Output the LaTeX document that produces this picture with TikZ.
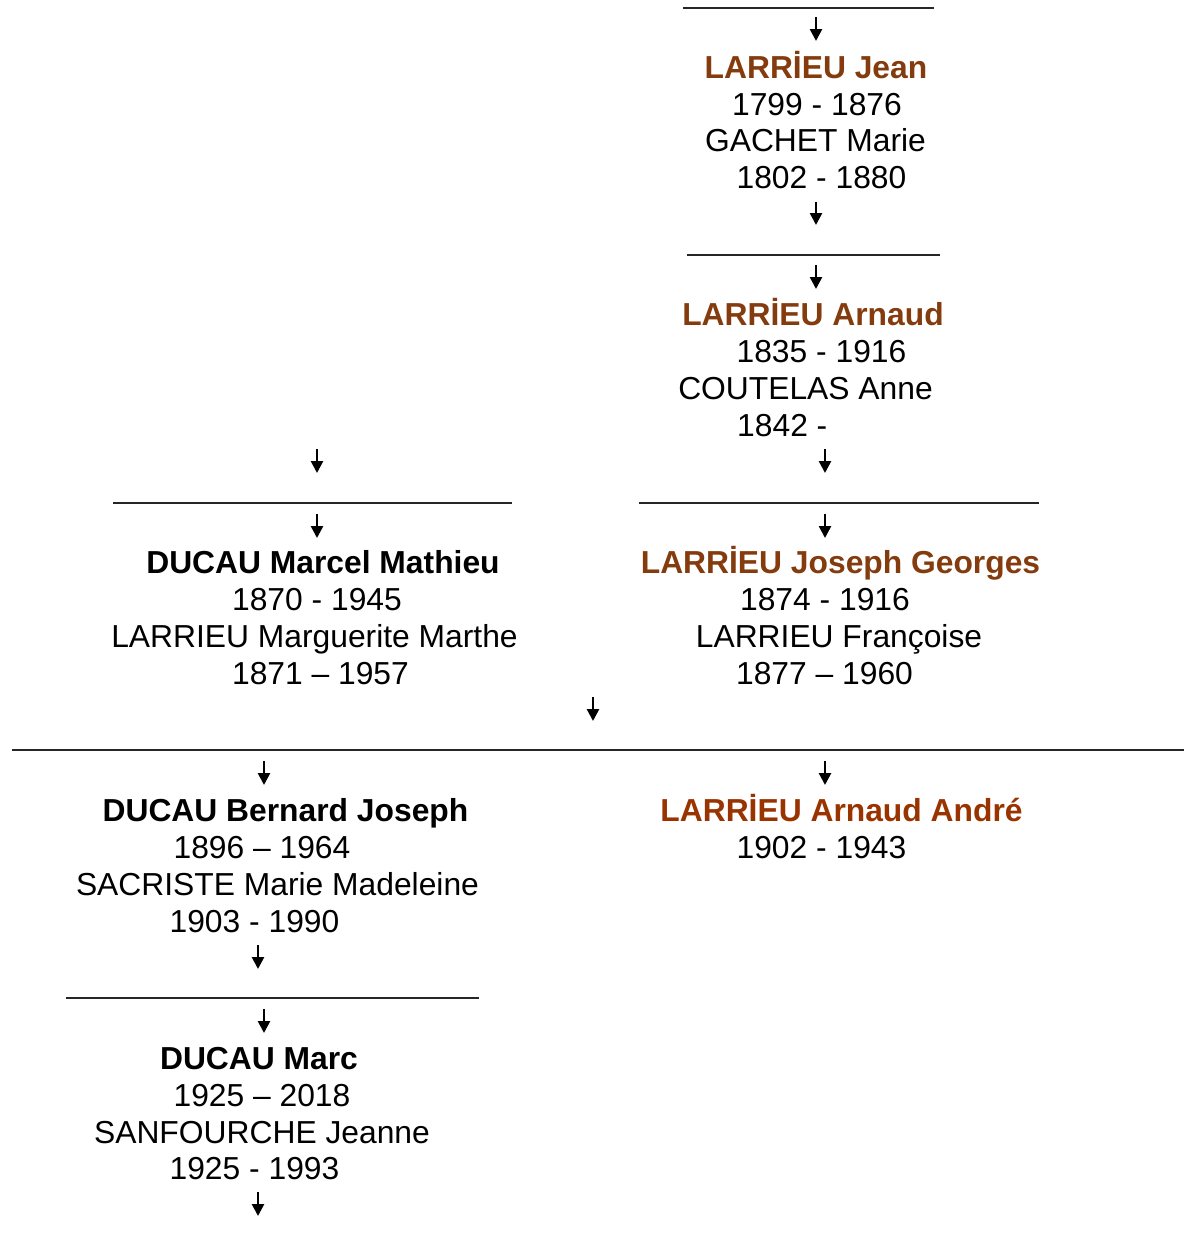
\documentclass[tikz,border=0pt]{standalone}
\usepackage{fontspec}
\setmainfont{Liberation Sans}
\usetikzlibrary{arrows.meta}
\definecolor{brA}{RGB}{132,60,14}
\definecolor{brB}{RGB}{153,51,0}
\begin{document}
\begin{tikzpicture}[x=1pt,y=-1pt,
  txt/.style={anchor=base,inner sep=0pt,font=\fontsize{31.8}{37}\selectfont},
  nm/.style={txt,font=\fontsize{31.8}{37}\selectfont\bfseries},
  lar/.style={nm,text=brA},
  arr/.style={-{Triangle[width=12pt,length=12pt]},line width=2.6pt},
  rule/.style={line width=1.5pt,black!85}]
\useasboundingbox (0,0) rectangle (1184,1245);
% top
\coordinate (l0a) at (683,8); \coordinate (l0b) at (934,8);
\draw[rule] (l0a) -- (l0b);
\coordinate (a1s) at (816,17); \coordinate (a1e) at (816,41);
\draw[arr] (a1s) -- (a1e);
\node[lar] (jean) at (816,78) {LARRİEU Jean};
\node[txt] (jean1) at (817,115) {1799 - 1876};
\node[txt] (jean2) at (815.5,151) {GACHET Marie};
\node[txt] (jean3) at (821.5,188) {1802 - 1880};
\coordinate (a2s) at (816,202); \coordinate (a2e) at (816,225);
\draw[arr] (a2s) -- (a2e);
\coordinate (l1a) at (687,255); \coordinate (l1b) at (940,255);
\draw[rule] (l1a) -- (l1b);
\coordinate (a3s) at (816,265); \coordinate (a3e) at (816,289);
\draw[arr] (a3s) -- (a3e);
\node[lar] (arn) at (813,325) {LARRİEU Arnaud};
\node[txt] (arn1) at (821.5,362) {1835 - 1916};
\node[txt] (arn2) at (805.5,399) {COUTELAS Anne};
\node[txt,anchor=base west] (arn3) at (737,436) {1842 -};
\coordinate (a4s) at (825,449); \coordinate (a4e) at (825,473);
\draw[arr] (a4s) -- (a4e);
\coordinate (a5s) at (317,449); \coordinate (a5e) at (317,473);
\draw[arr] (a5s) -- (a5e);
% generation 3
\coordinate (l2a) at (113,503); \coordinate (l2b) at (512,503);
\draw[rule] (l2a) -- (l2b);
\coordinate (l3a) at (639,503); \coordinate (l3b) at (1039,503);
\draw[rule] (l3a) -- (l3b);
\coordinate (a6s) at (317,514); \coordinate (a6e) at (317,538);
\draw[arr] (a6s) -- (a6e);
\coordinate (a7s) at (825,514); \coordinate (a7e) at (825,538);
\draw[arr] (a7s) -- (a7e);
\node[nm] (marcel) at (323,573) {DUCAU Marcel Mathieu};
\node[txt] (marcel1) at (317,610) {1870 - 1945};
\node[txt] (marcel2) at (314.5,647) {LARRIEU Marguerite Marthe};
\node[txt] (marcel3) at (320.5,684) {1871 – 1957};
\node[lar] (joseph) at (840.5,573) {LARRİEU Joseph Georges};
\node[txt] (joseph1) at (825,610) {1874 - 1916};
\node[txt] (joseph2) at (839,647) {LARRIEU Françoise};
\node[txt] (joseph3) at (824.5,684) {1877 – 1960};
\coordinate (a8s) at (593,697); \coordinate (a8e) at (593,721);
\draw[arr] (a8s) -- (a8e);
\coordinate (l4a) at (12,750); \coordinate (l4b) at (1184,750);
\draw[rule] (l4a) -- (l4b);
% generation 4
\coordinate (a9s) at (264,761); \coordinate (a9e) at (264,785);
\draw[arr] (a9s) -- (a9e);
\coordinate (a10s) at (825,761); \coordinate (a10e) at (825,785);
\draw[arr] (a10s) -- (a10e);
\node[nm] (bernard) at (285.5,821) {DUCAU Bernard Joseph};
\node[txt] (bernard1) at (262,858) {1896 – 1964};
\node[txt] (bernard2) at (277.5,895) {SACRISTE Marie Madeleine};
\node[txt] (bernard3) at (254.5,932) {1903 - 1990};
\node[nm,text=brB] (andre) at (841.5,821) {LARRİEU Arnaud André};
\node[txt] (andre1) at (821.5,858) {1902 - 1943};
\coordinate (a11s) at (258,945); \coordinate (a11e) at (258,969);
\draw[arr] (a11s) -- (a11e);
\coordinate (l5a) at (66,998); \coordinate (l5b) at (479,998);
\draw[rule] (l5a) -- (l5b);
\coordinate (a12s) at (264,1009); \coordinate (a12e) at (264,1033);
\draw[arr] (a12s) -- (a12e);
\node[nm] (marc) at (259,1069) {DUCAU Marc};
\node[txt] (marc1) at (262,1106) {1925 – 2018};
\node[txt] (marc2) at (262,1143) {SANFOURCHE Jeanne};
\node[txt] (marc3) at (254.5,1179) {1925 - 1993};
\coordinate (a13s) at (258,1192); \coordinate (a13e) at (258,1216);
\draw[arr] (a13s) -- (a13e);
\end{tikzpicture}
\end{document}
